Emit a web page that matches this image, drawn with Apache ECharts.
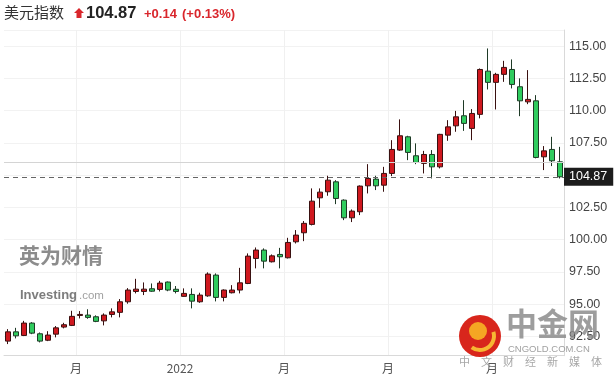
<!DOCTYPE html>
<html>
<head>
<meta charset="utf-8">
<script src="https://cdn.jsdelivr.net/npm/echarts@6/dist/echarts.min.js"></script>
<style>
html,body{margin:0;padding:0;background:#fff;}
#c{width:614px;height:382px;}
</style>
</head>
<body>
<div id="c"></div>
<script>
// Weekly candles (week ending dates)
const categories = [
 '2021-08-06','2021-08-13','2021-08-20','2021-08-27','2021-09-03','2021-09-10','2021-09-17','2021-09-24',
 '2021-10-01','2021-10-08','2021-10-15','2021-10-22','2021-10-29','2021-11-05','2021-11-12','2021-11-19',
 '2021-11-26','2021-12-03','2021-12-10','2021-12-17','2021-12-24','2021-12-31','2022-01-07','2022-01-14',
 '2022-01-21','2022-01-28','2022-02-04','2022-02-11','2022-02-18','2022-02-25','2022-03-04','2022-03-11',
 '2022-03-18','2022-03-25','2022-04-01','2022-04-08','2022-04-15','2022-04-22','2022-04-29','2022-05-06',
 '2022-05-13','2022-05-20','2022-05-27','2022-06-03','2022-06-10','2022-06-17','2022-06-24','2022-07-01',
 '2022-07-08','2022-07-15','2022-07-22','2022-07-29','2022-08-05','2022-08-12','2022-08-19','2022-08-26',
 '2022-09-02','2022-09-09','2022-09-16','2022-09-23','2022-09-30','2022-10-07','2022-10-14','2022-10-21',
 '2022-10-28','2022-11-04','2022-11-11','2022-11-18','2022-11-25','2022-12-02'
];
const opens = [
 92.13,92.85,92.57,93.53,92.70,92.20,92.67,93.22,93.35,94.12,94.15,94.02,93.70,94.20,94.36,95.18,
 95.98,95.98,96.19,96.14,96.71,96.15,95.60,95.75,95.18,95.64,97.25,95.52,95.88,96.09,96.60,98.54,
 99.19,98.28,98.85,98.59,99.83,100.53,101.18,103.24,103.71,104.48,103.06,101.69,102.16,104.17,104.69,104.22,
 105.13,106.94,107.97,106.50,105.91,106.60,105.64,108.10,108.82,109.60,108.62,109.71,113.06,112.19,112.81,113.19,
 111.85,110.68,110.76,106.42,106.99,106.03
];
const closes = [
 92.85,92.54,93.53,92.75,92.13,92.60,93.16,93.40,94.05,94.20,93.97,93.66,94.15,94.40,95.18,96.09,
 96.16,96.16,96.00,96.63,96.09,95.98,95.83,95.23,95.70,97.33,95.52,96.09,96.09,96.65,98.72,99.19,
 98.33,98.74,98.67,99.78,100.35,101.26,102.98,103.68,104.61,103.19,101.69,102.21,104.15,104.74,104.17,105.13,
 106.99,108.05,106.76,105.98,106.60,105.64,108.16,108.74,109.52,109.01,109.78,113.19,112.19,112.81,113.35,112.03,
 110.76,110.87,106.37,106.88,106.11,104.87
];
const lows = [
 91.90,92.34,92.52,92.67,92.03,92.13,92.42,93.12,93.30,93.89,93.86,93.60,93.35,93.97,93.97,95.03,
 95.83,95.70,95.95,95.98,96.00,95.83,95.57,94.67,95.10,95.57,95.21,95.21,95.83,95.83,96.55,97.77,
 97.77,98.23,97.77,98.54,99.70,99.88,101.10,102.47,103.40,102.75,101.51,101.36,101.90,103.58,103.84,103.71,
 104.92,106.88,106.16,105.85,105.13,104.74,105.52,107.66,108.36,108.43,107.71,109.40,111.64,110.09,112.23,111.72,
 109.57,110.50,106.30,105.39,105.70,104.74
];
const highs = [
 93.06,93.16,93.70,93.60,92.80,92.90,93.30,93.55,94.48,94.46,94.60,94.13,94.28,94.67,95.39,96.24,
 96.96,96.68,96.60,96.80,96.75,96.40,96.22,96.22,95.88,97.46,97.38,96.14,96.47,97.81,98.93,99.39,
 99.32,98.85,99.36,100.14,100.74,101.44,103.97,103.97,104.95,104.61,103.12,102.34,104.20,105.85,104.95,105.64,
 107.71,109.32,108.05,107.46,106.88,106.94,108.20,109.26,109.98,110.81,110.12,113.27,114.82,112.93,113.86,113.97,
 112.50,113.14,111.20,107.25,107.97,107.19
];
// x-axis tick labels (category index -> text)
const xLabelIndex = [9, 22, 35, 48, 61];
const xLabelText = ['月', '2022', '月', '月', '月'];
// y-axis tick values
const yTicks = [92.5, 95, 97.5, 100, 102.5, 105, 107.5, 110, 112.5, 115];
const lastPrice = 104.87;
const refLine = 106.0;

const candleData = opens.map((o, i) => [o, closes[i], lows[i], highs[i]]);

const chart = echarts.init(document.getElementById('c'), null, {renderer: 'canvas'});
const FONT = "'Liberation Sans', Arial, sans-serif";
const CJK = "'Noto Sans CJK SC', sans-serif";

chart.setOption({
  animation: false,
  backgroundColor: '#fff',
  grid: {left: 4, right: 50, top: 30, height: 325.7},
  xAxis: {
    type: 'category',
    data: categories,
    boundaryGap: true,
    axisLine: {show: true, lineStyle: {color: '#d9d9d9'}},
    axisTick: {show: false},
    axisLabel: {
      interval: (i) => xLabelIndex.indexOf(i) >= 0,
      formatter: (v, i) => { const k = xLabelIndex.indexOf(i); return k >= 0 ? xLabelText[k] : ''; },
      color: '#555', fontSize: 12, fontFamily: CJK, margin: 7,
      padding: [0, 8, 0, 0]
    },
    splitLine: {show: true, interval: (i) => xLabelIndex.indexOf(i) >= 0, lineStyle: {color: '#f0f0f0'}}
  },
  yAxis: {
    type: 'value',
    position: 'right',
    min: 91,
    max: 116.25,
    minInterval: 2.5,
    maxInterval: 2.5,
    scale: true,
    axisLine: {show: true, lineStyle: {color: '#d9d9d9'}},
    axisTick: {show: false},
    axisLabel: {
      color: '#444', fontSize: 12.5, fontFamily: FONT, margin: 5,
      showMinLabel: false, showMaxLabel: false,
      formatter: (v) => yTicks.some(t => Math.abs(t - v) < 1e-6) ? v.toFixed(2) : ''
    },
    splitLine: {show: true, lineStyle: {color: '#f2f2f2'}}
  },
  series: [{
    type: 'candlestick',
    data: candleData,
    barWidth: 6,
    itemStyle: {
      color: '#d0181f', color0: '#2fcc5e',
      borderColor: '#3a1010', borderColor0: '#1e3a26', borderWidth: 1
    },
    markLine: {
      symbol: 'none',
      silent: true,
      animation: false,
      data: [
        {yAxis: refLine, lineStyle: {color: '#d4d4d4', type: 'solid', width: 1}, label: {show: false}},
        {yAxis: lastPrice, lineStyle: {color: '#666', type: [5, 4], width: 1},
         label: {show: true, position: 'end', distance: 0, formatter: lastPrice.toFixed(2),
                 color: '#fff', backgroundColor: '#1c1c1c', padding: [3, 6, 2, 5],
                 fontSize: 12.5, fontFamily: FONT}}
      ]
    }
  }],
  graphic: [
    {type: 'text', left: 4, top: 5, style: {text: '美元指数', font: "15px 'Noto Sans CJK SC'", fill: '#333'}},
    {type: 'polygon', shape: {points: [[79,8],[84,13],[81.5,13],[81.5,18],[76.5,18],[76.5,13],[74,13]]}, style: {fill: '#d9262c'}},
    {type: 'text', left: 86, top: 5, style: {text: '104.87', font: "bold 16.5px 'Liberation Sans'", fill: '#222'}},
    {type: 'text', left: 144, top: 8, style: {text: '+0.14', font: "bold 13px 'Liberation Sans'", fill: '#d9262c'}},
    {type: 'text', left: 182, top: 8, style: {text: '(+0.13%)', font: "bold 13px 'Liberation Sans'", fill: '#d9262c'}},
    // Investing watermark
    {type: 'text', left: 19, top: 245, z: 100, style: {text: '英为财情', font: "bold 21px 'Noto Sans CJK SC'", fill: 'rgba(120,120,120,0.85)'}},
    {type: 'text', left: 20, top: 289, z: 100, style: {text: 'Investing', font: "bold 13px 'Liberation Sans'", fill: 'rgba(110,110,110,0.9)'}},
    {type: 'text', left: 79, top: 290, z: 100, style: {text: '.com', font: "11.5px 'Liberation Sans'", fill: 'rgba(150,150,150,0.9)'}},
    // CNGOLD watermark
    {type: 'circle', z: 100, shape: {cx: 480, cy: 336, r: 21}, style: {fill: '#d8261c'}},
    {type: 'circle', z: 101, shape: {cx: 478, cy: 331, r: 9}, style: {fill: '#f5a623'}},
    {type: 'arc', z: 101, shape: {cx: 480, cy: 336, r: 14, startAngle: -0.3, endAngle: 2.2}, style: {stroke: '#f7b733', lineWidth: 4, fill: null}},
    {type: 'text', left: 506, top: 308, z: 100, style: {text: '中金网', font: "bold 31px 'Noto Sans CJK SC'", fill: 'rgba(140,140,140,0.85)'}},
    {type: 'text', left: 508, top: 344, z: 100, style: {text: 'CNGOLD.COM.CN', font: "9.5px 'Liberation Sans'", fill: 'rgba(150,150,150,0.9)'}},
    {type: 'text', left: 459, top: 356, z: 100, style: {text: '中　文　财　经　新　媒　体', font: "11px 'Noto Sans CJK SC'", fill: 'rgba(150,150,150,0.85)'}}
  ]
});
</script>
</body>
</html>
